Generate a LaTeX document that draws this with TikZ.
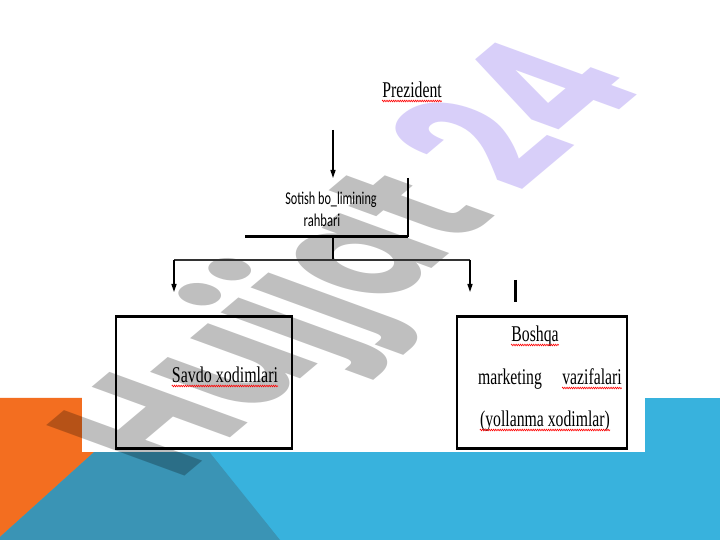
\documentclass[tikz,border=0pt]{standalone}
\usepackage{fontspec}
\usepackage{graphicx}
\usetikzlibrary{arrows.meta,decorations.pathmorphing}
\newfontfamily\slidefont{Liberation Serif}
\newfontfamily\boxfont{Carlito}
\newfontfamily\markfont{Poppins}
\newcommand{\tight}[2]{\scalebox{#1}[1]{#2}}
\definecolor{bandblue}{RGB}{56,178,221}
\definecolor{deepblue}{RGB}{58,148,181}
\definecolor{cornerorange}{RGB}{243,110,32}
\definecolor{markviolet}{RGB}{100,64,232}

\begin{document}
\begin{tikzpicture}
  [x=1pt,y=1pt,
   label/.style={inner sep=0pt,anchor=base,font=\slidefont\fontsize{22.5}{22.5}\selectfont},
   small/.style={inner sep=0pt,anchor=base,font=\boxfont\fontsize{18}{18}\selectfont},
   wire/.style={line width=1.4pt},
   bold line/.style={line width=3pt},
   pointer/.style={line width=1.4pt,-{Triangle[width=5pt,length=8pt]}},
   squiggle/.style={red,line width=0.6pt,decorate,decoration={zigzag,amplitude=0.8pt,segment length=2.2pt}},
   box/.style={draw,line width=1.3pt,minimum width=176pt,minimum height=131pt,inner sep=0pt}]

  \useasboundingbox (0,0) rectangle (720,540);
  \fill[white] (0,0) rectangle (720,540);
  \fill[bandblue] (0,0) rectangle (720,142);
  \fill[cornerorange] (0,142) -- (154,142) -- (0,3) -- cycle;
  \fill[deepblue] (0,3) -- (154,142) -- (166,142) -- (280,0) -- (0,0) -- cycle;
  \fill[white] (82,88) rectangle (645,540);

  \node[cm={1.04,0.875,-1.97,0.72,(178,58)},transform shape,anchor=base west,inner sep=0pt,
        text opacity=0.25,font=\markfont\bfseries\fontsize{100}{100}\selectfont] (mark) at (0,0)
        {Hujjat \textcolor{markviolet}{24}};

  \node[label] (prez) at (412,442) {\tight{0.7}{Prezident}};
  \node[small] (sotish) at (331,335) {\tight{0.68}{Sotish bo\_limining}};
  \node[small] (rahbari) at (322,313) {\tight{0.7}{rahbari}};

  \node[box] (savdobox) at (204,157.5) {};
  \node[box,minimum width=170pt] (boshqabox) at (542,157.5) {};
  \node[label] (savdo) at (225,157) {\tight{0.71}{Savdo xodimlari}};
  \node[label] (boshqa) at (535,198) {\tight{0.7}{Boshqa}};
  \node[label] (marketing) at (510,155) {\tight{0.7}{marketing}};
  \node[label] (vazifalari) at (592,155) {\tight{0.7}{vazifalari}};
  \node[label] (yollanma) at (545,113) {\tight{0.7}{(yollanma xodimlar)}};

  \coordinate (feed) at (333,410);
  \coordinate (feedtip) at (333,362);
  \coordinate (cornertop) at (408,362);
  \coordinate (corner) at (408,303);
  \coordinate (ledge) at (245,303);
  \coordinate (split) at (333,303);
  \coordinate (busmid) at (333,280);
  \coordinate (busL) at (174,280);
  \coordinate (busR) at (470,280);
  \coordinate (tipL) at (174,248);
  \coordinate (tipR) at (470,248);
  \coordinate (tickT) at (515,260);
  \coordinate (tickB) at (515,238);

  \foreach \b in {savdobox,boshqabox}
    \draw[bold line] (\b.north west) -- (\b.north east) (\b.south west) -- (\b.south east);

  \draw[pointer] (feed) -- (feedtip);
  \draw[wire] (cornertop) -- (corner);
  \draw[bold line] (ledge) -- (corner);
  \draw[wire] (split) -- (busmid);
  \draw[wire,black!80] (busL) -- (busR);
  \foreach \from/\to in {busL/tipL, busR/tipR}
    \draw[pointer] (\from) -- (\to);
  \draw[bold line] (tickT) -- (tickB);

  \foreach \w in {prez,savdo,boshqa,vazifalari,yollanma}
    \draw[squiggle] ([yshift=-3pt]\w.base west) -- ([yshift=-3pt]\w.base east);

\end{tikzpicture}
\end{document}
